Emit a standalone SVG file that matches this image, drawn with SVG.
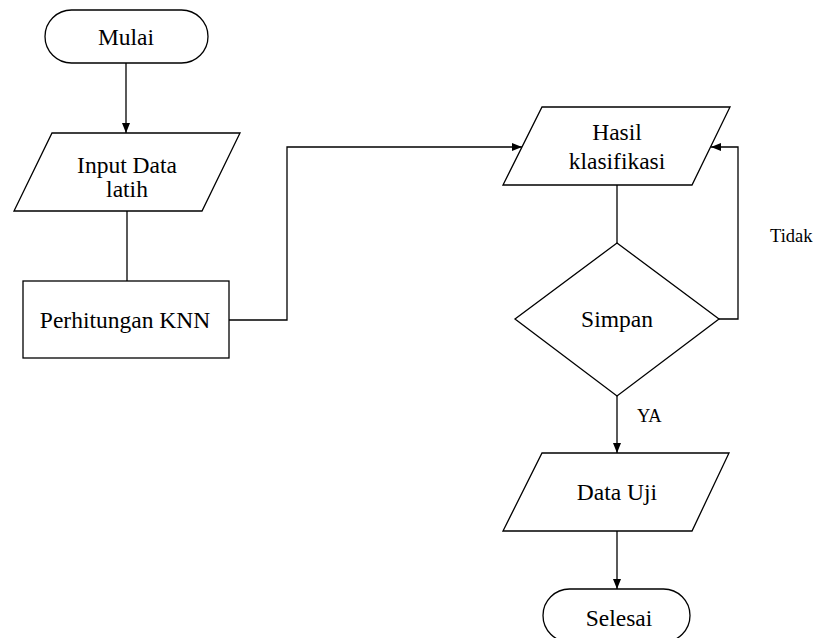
<svg xmlns="http://www.w3.org/2000/svg" width="815" height="638" viewBox="0 0 815 638">
<style>
.s{fill:#fff;stroke:#000;stroke-width:1.3}
.c{fill:none;stroke:#000;stroke-width:1.3}
.t{font-family:"Liberation Serif","Times New Roman",serif;font-size:23.5px;fill:#000;text-anchor:middle}
.l{font-family:"Liberation Serif","Times New Roman",serif;font-size:18.5px;fill:#000}
</style>
<defs>
<marker id="a" viewBox="0 0 10 10" refX="10" refY="5" markerWidth="10" markerHeight="10" markerUnits="userSpaceOnUse" orient="auto">
<path d="M0,1 L10,5 L0,9 Z" fill="#000"/>
</marker>
</defs>
<rect width="815" height="638" fill="#fff"/>
<g id="connectors">
<path class="c" d="M126,63 V133" marker-end="url(#a)"/>
<path class="c" d="M127,211 V281"/>
<path class="c" d="M229,320 H287 V147 H522" marker-end="url(#a)"/>
<path class="c" d="M617,185 V243"/>
<path class="c" d="M719,319 H738 V147 H711" marker-end="url(#a)"/>
<path class="c" d="M617,396 V453" marker-end="url(#a)"/>
<path class="c" d="M617,531 V589" marker-end="url(#a)"/>
<text class="l" x="770" y="242">Tidak</text>
<text class="l" x="637" y="422">YA</text>
</g>
<g id="mulai">
<rect class="s" x="45" y="10" width="163" height="53" rx="26.5"/>
<text class="t" x="126" y="45">Mulai</text>
</g>
<g id="input">
<polygon class="s" points="52,133 240,133 202,211 14,211"/>
<text class="t" x="127" y="173">Input Data</text>
<text class="t" x="127" y="197">latih</text>
</g>
<g id="knn">
<rect class="s" x="23" y="281" width="206" height="77"/>
<text class="t" x="125" y="328">Perhitungan KNN</text>
</g>
<g id="hasil">
<polygon class="s" points="542,107 730,107 692,185 503,185"/>
<text class="t" x="617" y="140">Hasil</text>
<text class="t" x="617" y="169">klasifikasi</text>
</g>
<g id="simpan">
<polygon class="s" points="617,243 719,319 617,396 515,319"/>
<text class="t" x="617" y="327">Simpan</text>
</g>
<g id="datauji">
<polygon class="s" points="542,453 729,453 692,531 503,531"/>
<text class="t" x="617" y="500">Data Uji</text>
</g>
<g id="selesai">
<rect class="s" x="543" y="589" width="147" height="53" rx="26.5"/>
<text class="t" x="619" y="626">Selesai</text>
</g>
</svg>
